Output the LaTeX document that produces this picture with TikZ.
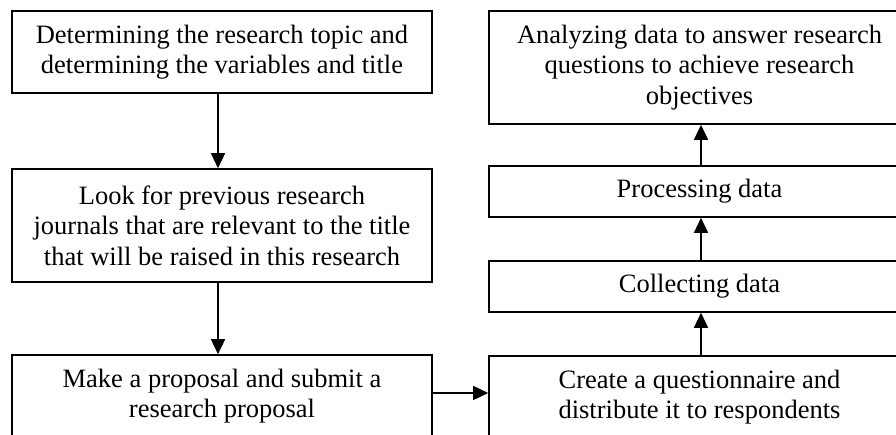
\documentclass[tikz,border=0pt]{standalone}
\usepackage{fontspec}
\setmainfont{Liberation Serif}
\usetikzlibrary{arrows.meta}
\tikzset{
  stepbox/.style={draw=black, line width=1.6pt, minimum width=420pt, inner sep=0pt,
    align=center, font=\fontsize{26.5}{30.5}\selectfont, text=black},
  flow/.style={line width=1.5pt, -{Triangle[length=15pt,width=14pt]}}
}
\begin{document}
\begin{tikzpicture}[x=1pt,y=-1pt]
\useasboundingbox (0,0) rectangle (896,434);
\clip (0,0) rectangle (896,434);
\node[stepbox, minimum height=82pt] (b1) at (222,52) {Determining the research topic and\\determining the variables and title};
\node[stepbox, minimum height=113pt] (b2) at (222,225.5) {Look for previous research\\journals that are relevant to the title\\that will be raised in this research};
\node[stepbox, minimum height=82pt] (b3) at (222,396) {Make a proposal and submit a\\research proposal};
\node[stepbox, minimum height=82pt, minimum width=421pt] (b4) at (699.5,397) {Create a questionnaire and\\distribute it to respondents};
\node[stepbox, minimum height=51pt, minimum width=421pt] (b5) at (699.5,286.5) {Collecting data};
\node[stepbox, minimum height=51pt, minimum width=421pt] (b6) at (699.5,191.5) {Processing data};
\node[stepbox, minimum height=113pt, minimum width=421pt] (b7) at (699.5,67.5) {Analyzing data to answer research\\questions to achieve research\\objectives};
\draw[flow] ([xshift=-4pt]b1.south) -- ([xshift=-4pt]b2.north);
\draw[flow] ([xshift=-4pt]b2.south) -- ([xshift=-4pt]b3.north);
\draw[flow] ([yshift=3pt]b3.east) -- ([yshift=3pt]b3.east -| b4.west);
\draw[flow] ([xshift=1.5pt]b4.north) -- ([xshift=1.5pt]b5.south);
\draw[flow] ([xshift=1.5pt]b5.north) -- ([xshift=1.5pt]b6.south);
\draw[flow] ([xshift=1.5pt]b6.north) -- ([xshift=1.5pt]b7.south);
\end{tikzpicture}
\end{document}
